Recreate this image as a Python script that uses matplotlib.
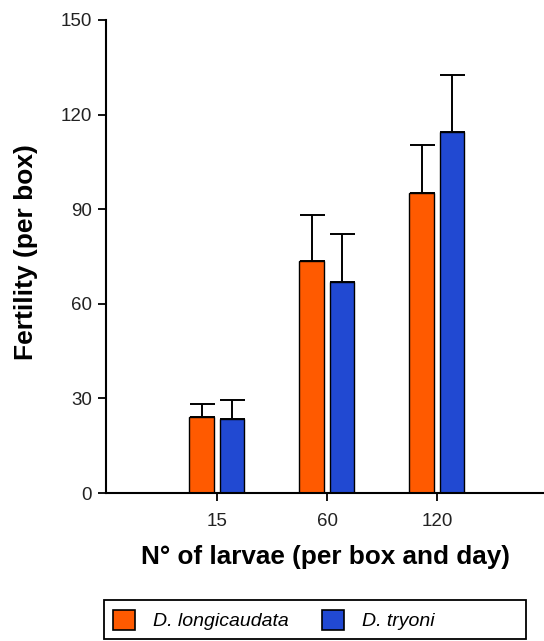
import numpy as np
import matplotlib
matplotlib.use('Agg')
from matplotlib import pyplot as plt
from matplotlib.patches import Rectangle

# larvae density groups and fertility per box (mean and upper error)
groups = ['15', '60', '120']
longicaudata = [24, 73.5, 95]
longicaudata_err = [4.2, 14.8, 15.5]
tryoni = [23.5, 67, 114.5]
tryoni_err = [6, 15, 18]

c_orange = '#ff5a00'
c_blue = '#2149d2'

plt.rcParams['font.family'] = ['Liberation Sans', 'DejaVu Sans']

W, H = 544, 641
fig = plt.figure(figsize=(W / 100, H / 100), dpi=100)
ax = fig.add_axes([106 / W, 148 / H, 1 - 106 / W, (493 - 20) / H])

x = np.arange(len(groups))
w = 0.225
ax.bar(x - 0.14, longicaudata, w, color=c_orange, edgecolor='black', linewidth=1,
       label='D. longicaudata', zorder=2)
ax.bar(x + 0.135, tryoni, w, color=c_blue, edgecolor='black', linewidth=1,
       label='D. tryoni', zorder=2)
ax.errorbar(x - 0.14, longicaudata, yerr=[np.zeros(3), longicaudata_err], fmt='none',
            ecolor='black', elinewidth=1.4, capsize=9, capthick=1.4, zorder=1)
ax.errorbar(x + 0.135, tryoni, yerr=[np.zeros(3), tryoni_err], fmt='none',
            ecolor='black', elinewidth=1.4, capsize=9, capthick=1.4, zorder=1)

ax.set_xlim(-1.01, 2.97)
ax.set_ylim(0, 150)
ax.set_yticks([0, 30, 60, 90, 120, 150])
ax.set_xticks(x)
ax.set_xticklabels(groups)
ax.spines['top'].set_visible(False)
ax.spines['right'].set_visible(False)
ax.spines['left'].set_linewidth(1.5)
ax.spines['bottom'].set_linewidth(1.5)
ax.tick_params(axis='both', labelsize=13.5, width=1.3, length=6, pad=4,
               color='black', labelcolor='#222222')
ax.tick_params(axis='x', pad=8.5)

ax.set_ylabel('Fertility (per box)', fontsize=19, fontweight='bold')
ax.set_xlabel('N° of larvae (per box and day)', fontsize=18.8, fontweight='bold', labelpad=11)
ax.yaxis.set_label_coords(-0.155, 0.51)

leg = fig.legend(loc='center left', bbox_to_anchor=(104 / W, 1 - 620 / H), ncol=2,
                 frameon=False, borderaxespad=0, borderpad=0.46, handlelength=1.13,
                 handleheight=1.25, columnspacing=1.7, handletextpad=0.93,
                 prop={'style': 'italic', 'size': 14})
for h in leg.legend_handles:
    h.set_edgecolor('black')
    h.set_linewidth(1.2)

# legend frame running across the bottom
fig.patches.append(Rectangle((104 / W, 2 / H), (526 - 104) / W, (639 - 600) / H,
                             transform=fig.transFigure, fill=False,
                             edgecolor='black', linewidth=1.3))

fig.savefig('out.png', dpi=100)
